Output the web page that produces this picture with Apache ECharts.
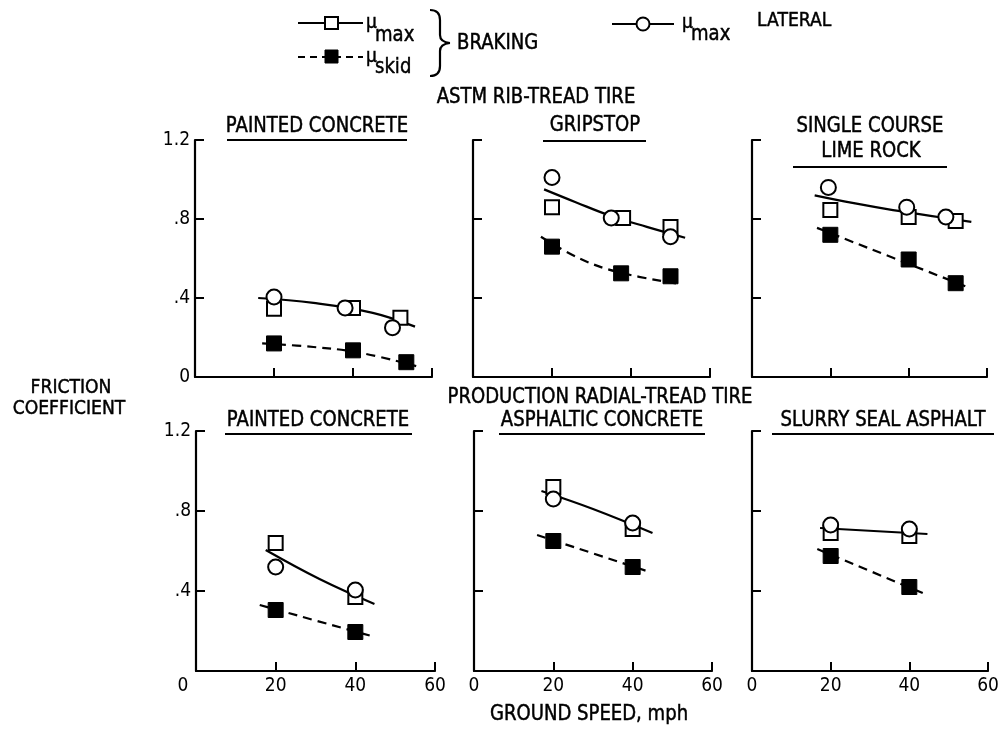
<!DOCTYPE html>
<html><head><meta charset="utf-8">
<script src="https://cdn.jsdelivr.net/npm/echarts@6/dist/echarts.min.js"></script>
<style>html,body{margin:0;padding:0;background:#fff}#c{width:1004px;height:731px}</style>
</head><body><div id="c"></div>
<script>
// ---- tick labels ----
const xTicks = [0, 20, 40, 60];
const yTicks = [0, 0.4, 0.8, 1.2];

// ---- panel titles ----
const topGroupTitle = 'ASTM RIB-TREAD TIRE';
const bottomGroupTitle = 'PRODUCTION RADIAL-TREAD TIRE';
const panelTitles = [['PAINTED CONCRETE'], ['GRIPSTOP'], ['SINGLE COURSE', 'LIME ROCK'],
                     ['PAINTED CONCRETE'], ['ASPHALTIC CONCRETE'], ['SLURRY SEAL ASPHALT']];

// ---- data: [speed mph, friction coefficient] ----
// Panel 1: ASTM, painted concrete
const brakeMax1 = [[20, 0.345], [40, 0.35], [52, 0.30]];
const skid1 = [[20, 0.17], [40, 0.135], [53.5, 0.075]];
const lateral1 = [[20, 0.405], [38, 0.35], [50, 0.25]];
const fitMax1 = [[16, 0.40], [30, 0.375], [45, 0.325], [55.7, 0.255]];
const fitSkid1 = [[17, 0.17], [30, 0.152], [42, 0.122], [56, 0.055]];
// Panel 2: ASTM, gripstop
const brakeMax2 = [[20, 0.86], [38, 0.805], [50, 0.76]];
const skid2 = [[20, 0.66], [37.5, 0.525], [50, 0.51]];
const lateral2 = [[20, 1.01], [35, 0.805], [50, 0.71]];
const fitMax2 = [[18, 0.95], [26, 0.885], [35, 0.815], [44, 0.76], [53.7, 0.705]];
const fitSkid2 = [[17.2, 0.71], [27, 0.60], [37, 0.53], [52.5, 0.47]];
// Panel 3: ASTM, single course lime rock
const brakeMax3 = [[20, 0.845], [40, 0.81], [52, 0.79]];
const skid3 = [[20, 0.72], [40, 0.595], [52, 0.475]];
const lateral3 = [[19.5, 0.96], [39.5, 0.86], [49.5, 0.81]];
const fitMax3 = [[16, 0.92], [26, 0.88], [36, 0.845], [46, 0.815], [56, 0.785]];
const fitSkid3 = [[16.6, 0.755], [55.7, 0.45]];
// Panel 4: radial, painted concrete
const brakeMax4 = [[20, 0.64], [40, 0.37]];
const skid4 = [[20, 0.305], [40, 0.195]];
const lateral4 = [[20, 0.52], [40, 0.405]];
const fitMax4 = [[17.5, 0.605], [31, 0.46], [44.8, 0.335]];
const fitSkid4 = [[16, 0.33], [44, 0.175]];
// Panel 5: radial, asphaltic concrete
const brakeMax5 = [[20, 0.92], [40, 0.71]];
const skid5 = [[20, 0.65], [40, 0.52]];
const lateral5 = [[20, 0.86], [40, 0.74]];
const fitMax5 = [[17, 0.90], [30, 0.81], [45, 0.69]];
const fitSkid5 = [[15.9, 0.68], [44.3, 0.495]];
// Panel 6: radial, slurry seal asphalt
const brakeMax6 = [[20, 0.69], [40, 0.675]];
const skid6 = [[20, 0.575], [40, 0.42]];
const lateral6 = [[20, 0.73], [40, 0.71]];
const fitMax6 = [[17.3, 0.715], [44.6, 0.685]];
const fitSkid6 = [[16.6, 0.61], [44, 0.385]];

const panels = [
  [brakeMax1, skid1, lateral1, fitMax1, fitSkid1],
  [brakeMax2, skid2, lateral2, fitMax2, fitSkid2],
  [brakeMax3, skid3, lateral3, fitMax3, fitSkid3],
  [brakeMax4, skid4, lateral4, fitMax4, fitSkid4],
  [brakeMax5, skid5, lateral5, fitMax5, fitSkid5],
  [brakeMax6, skid6, lateral6, fitMax6, fitSkid6]
];

// ---- layout ----
const AXFONT = "'DejaVu Sans Condensed','Liberation Sans Narrow','DejaVu Sans',sans-serif";
const TFONT = "'DejaVu Sans',sans-serif";
const gridBoxes = [
  {left: 195, top: 140, width: 237, height: 237},
  {left: 473, top: 140, width: 237, height: 237},
  {left: 752, top: 140, width: 235, height: 237},
  {left: 196, top: 431, width: 239, height: 240},
  {left: 474, top: 431, width: 238, height: 240},
  {left: 752, top: 431, width: 236, height: 240}
];

const grids = [], xAxes = [], yAxes = [], series = [];
gridBoxes.forEach((g, i) => {
  grids.push(Object.assign({containLabel: false}, g));
  const bottomRow = i >= 3, leftCol = (i % 3) === 0;
  const axLine = {show: true, onZero: false, lineStyle: {color: '#000', width: 2.2}};
  const tick = {show: true, inside: true, length: 9, lineStyle: {color: '#000', width: 2}};
  xAxes.push({
    type: 'value', gridIndex: i, min: xTicks[0], max: xTicks[xTicks.length - 1], interval: 20,
    axisLine: axLine, axisTick: tick, splitLine: {show: false},
    axisLabel: {
      show: bottomRow, margin: 6, color: '#000', fontSize: 19, fontFamily: AXFONT,
      formatter: v => (i === 3 && v === 0) ? '{l|0}' : String(v),
      rich: {l: {fontSize: 19, fontFamily: AXFONT, color: '#000', padding: [0, 26, 0, 0]}}
    }
  });
  yAxes.push({
    type: 'value', gridIndex: i, min: yTicks[0], max: yTicks[yTicks.length - 1], interval: 0.4,
    axisLine: axLine, axisTick: tick, splitLine: {show: false},
    axisLabel: {
      show: leftCol, margin: 5, color: '#000', fontSize: 19, fontFamily: AXFONT,
      formatter: v => {
        if (v < 0.01) return i === 3 ? '' : '0';
        if (v >= 1) return (Math.round(v * 10) / 10).toFixed(1);
        return '.' + Math.round(v * 10);
      }
    }
  });
  const [bm, sk, lat, fm, fs] = panels[i];
  series.push({type: 'line', xAxisIndex: i, yAxisIndex: i, data: fm, smooth: 0.4, showSymbol: false,
    symbol: 'none', lineStyle: {color: '#000', width: 2.2}, z: 2, silent: true});
  series.push({type: 'line', xAxisIndex: i, yAxisIndex: i, data: fs, smooth: 0.4, showSymbol: false,
    symbol: 'none', lineStyle: {color: '#000', width: 2.2, type: [9, 6]}, z: 2, silent: true});
  series.push({type: 'scatter', xAxisIndex: i, yAxisIndex: i, data: bm, symbol: 'rect', symbolSize: 14,
    itemStyle: {color: '#fff', borderColor: '#000', borderWidth: 2, opacity: 1}, z: 4});
  series.push({type: 'scatter', xAxisIndex: i, yAxisIndex: i, data: lat, symbol: 'circle', symbolSize: 15,
    itemStyle: {color: '#fff', borderColor: '#000', borderWidth: 2, opacity: 1}, z: 4});
  series.push({type: 'scatter', xAxisIndex: i, yAxisIndex: i, data: sk, symbol: 'rect', symbolSize: 15,
    itemStyle: {color: '#000', borderColor: '#000', borderWidth: 1, opacity: 1}, z: 5});
});

// ---- decorations ----
function txt(x, y, s, size, align, sx) {
  return {type: 'text', x: x, y: y, scaleX: sx == null ? 0.86 : sx, z: 10,
    style: {text: s, fontSize: size, fontFamily: TFONT, fill: '#000', stroke: '#000', lineWidth: 0.5,
      align: align || 'center', verticalAlign: 'middle'}};
}
function ln(x1, y1, x2, y2, w, dash) {
  return {type: 'line', z: 10, shape: {x1, y1, x2, y2}, style: {stroke: '#000', lineWidth: w || 2, lineDash: dash || null}};
}
function qc(x1, y1, cx, cy, x2, y2) {
  return {type: 'bezierCurve', z: 10, shape: {x1, y1, cpx1: cx, cpy1: cy, x2, y2}, style: {fill: null, stroke: '#000', lineWidth: 2.2}};
}
const gfx = [];
// legend
gfx.push(ln(298, 23, 363, 23, 2));
gfx.push({type: 'rect', z: 11, shape: {x: 325, y: 17, width: 13, height: 12}, style: {fill: '#fff', stroke: '#000', lineWidth: 2}});
gfx.push(ln(298, 57, 363, 57, 2, [7, 5]));
gfx.push({type: 'rect', z: 11, shape: {x: 325, y: 50, width: 13, height: 13}, style: {fill: '#000', stroke: '#000', lineWidth: 1}});
gfx.push(txt(366, 23, 'μ', 19, 'left', 0.9));
gfx.push(txt(375, 36, 'max', 21, 'left'));
gfx.push(txt(366, 57, 'μ', 19, 'left', 0.9));
gfx.push(txt(375, 68, 'skid', 21, 'left'));
// brace
gfx.push(qc(430, 10, 440, 10, 440, 20));
gfx.push(ln(440, 20, 440, 35, 2.2));
gfx.push(qc(440, 35, 440, 42, 450, 43));
gfx.push(qc(450, 43, 440, 44, 440, 51));
gfx.push(ln(440, 51, 440, 66, 2.2));
gfx.push(qc(440, 66, 440, 76, 430, 76));
gfx.push(txt(457, 44, 'BRAKING', 21, 'left'));
gfx.push(ln(612, 24, 674, 24, 2));
gfx.push({type: 'circle', z: 11, shape: {cx: 643, cy: 24, r: 6.5}, style: {fill: '#fff', stroke: '#000', lineWidth: 2}});
gfx.push(txt(682, 23, 'μ', 19, 'left', 0.9));
gfx.push(txt(691, 35, 'max', 21, 'left'));
gfx.push(txt(757, 21, 'LATERAL', 20, 'left'));
// group titles
gfx.push(txt(536, 98, topGroupTitle, 21, 'center'));
gfx.push(txt(600, 398, bottomGroupTitle, 21, 'center'));
// panel titles with underline
gfx.push(txt(317, 127, panelTitles[0][0], 21)); gfx.push(ln(227, 140, 407, 140, 2.2));
gfx.push(txt(595, 126, panelTitles[1][0], 21)); gfx.push(ln(543, 141, 646, 141, 2.2));
gfx.push(txt(870, 127, panelTitles[2][0], 21)); gfx.push(txt(871, 152, panelTitles[2][1], 21)); gfx.push(ln(793, 167, 947, 167, 2.2));
gfx.push(txt(318, 421, panelTitles[3][0], 21)); gfx.push(ln(225, 434, 412, 434, 2.2));
gfx.push(txt(602, 421, panelTitles[4][0], 21)); gfx.push(ln(499, 434, 705, 434, 2.2));
gfx.push(txt(883, 421, panelTitles[5][0], 21)); gfx.push(ln(772, 434, 994, 434, 2.2));
// axis titles
gfx.push(txt(71, 388, 'FRICTION', 20));
gfx.push(txt(69, 409, 'COEFFICIENT', 20));
gfx.push(txt(589, 715, 'GROUND SPEED, mph', 21));

const chart = echarts.init(document.getElementById('c'), null, {renderer: 'canvas'});
chart.setOption({
  animation: false,
  backgroundColor: '#fff',
  grid: grids, xAxis: xAxes, yAxis: yAxes, series: series,
  graphic: {elements: gfx}
});
</script></body></html>
